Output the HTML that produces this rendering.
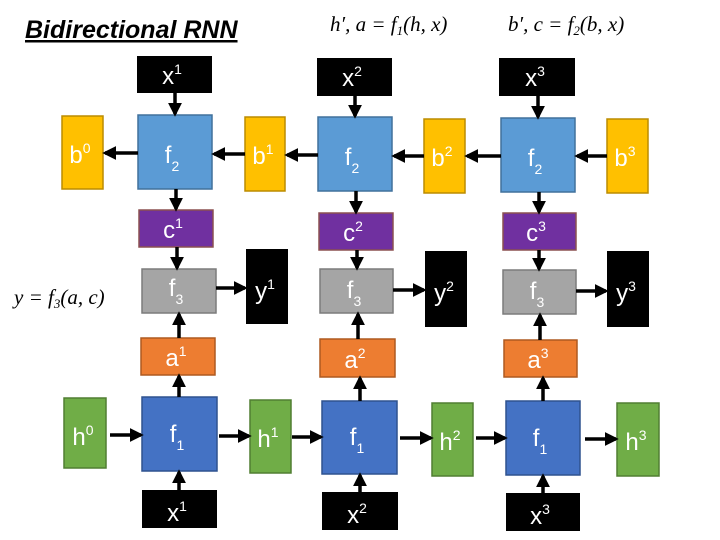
<!DOCTYPE html>
<html><head><meta charset="utf-8"><style>
html,body{margin:0;padding:0;background:#fff}
svg{display:block}
.t{font-family:"Liberation Sans Narrow","Liberation Sans",sans-serif;fill:#fff;font-size:24px;text-anchor:middle}
.s{font-size:14px}
.m{font-family:"Liberation Serif",serif;font-style:italic;font-size:21px;fill:#000}
</style></head><body>
<svg width="720" height="540" viewBox="0 0 720 540" xmlns="http://www.w3.org/2000/svg">
<defs><marker id="a" markerWidth="4" markerHeight="4" refX="3.2" refY="2" orient="auto" markerUnits="strokeWidth"><path d="M0,0 L4,2 L0,4 z" fill="#000"/></marker></defs>
<text x="25" y="38" font-family="Liberation Sans,sans-serif" font-weight="bold" font-style="italic" font-size="25" text-decoration="underline">Bidirectional RNN</text>
<text class="m" x="330" y="31">h′, a = f<tspan font-size="13" dy="4">1</tspan><tspan dy="-4">(h, x)</tspan></text>
<text class="m" x="508" y="31">b′, c = f<tspan font-size="13" dy="4">2</tspan><tspan dy="-4">(b, x)</tspan></text>
<text class="m" x="14" y="304">y = f<tspan font-size="13" dy="4">3</tspan><tspan dy="-4">(a, c)</tspan></text>
<g stroke-width="1.5">
<rect x="137" y="56" width="75" height="37" fill="#000"/>
<rect x="317" y="58" width="75" height="38" fill="#000"/>
<rect x="499" y="58" width="76" height="38" fill="#000"/>
<rect x="138" y="115" width="74" height="74" fill="#5B9BD5" stroke="#41719C"/>
<rect x="318" y="117" width="74" height="74" fill="#5B9BD5" stroke="#41719C"/>
<rect x="501" y="118" width="74" height="74" fill="#5B9BD5" stroke="#41719C"/>
<rect x="62" y="116" width="41" height="73" fill="#FFC000" stroke="#BC8C00"/>
<rect x="245" y="117" width="40" height="74" fill="#FFC000" stroke="#BC8C00"/>
<rect x="424" y="119" width="41" height="74" fill="#FFC000" stroke="#BC8C00"/>
<rect x="607" y="119" width="41" height="74" fill="#FFC000" stroke="#BC8C00"/>
<rect x="139" y="210" width="74" height="37" fill="#7030A0" stroke="#8B5050"/>
<rect x="319" y="213" width="74" height="37" fill="#7030A0" stroke="#8B5050"/>
<rect x="503" y="213" width="73" height="37" fill="#7030A0" stroke="#8B5050"/>
<rect x="142" y="269" width="74" height="44" fill="#A5A5A5" stroke="#7C7C7C"/>
<rect x="320" y="269" width="73" height="44" fill="#A5A5A5" stroke="#7C7C7C"/>
<rect x="503" y="270" width="73" height="44" fill="#A5A5A5" stroke="#7C7C7C"/>
<rect x="246" y="249" width="42" height="75" fill="#000"/>
<rect x="425" y="251" width="42" height="76" fill="#000"/>
<rect x="607" y="251" width="42" height="76" fill="#000"/>
<rect x="141" y="338" width="74" height="37" fill="#ED7D31" stroke="#AE5A21"/>
<rect x="320" y="339" width="75" height="38" fill="#ED7D31" stroke="#AE5A21"/>
<rect x="504" y="340" width="73" height="37" fill="#ED7D31" stroke="#AE5A21"/>
<rect x="142" y="397" width="75" height="74" fill="#4472C4" stroke="#2F528F"/>
<rect x="322" y="401" width="75" height="73" fill="#4472C4" stroke="#2F528F"/>
<rect x="506" y="401" width="74" height="74" fill="#4472C4" stroke="#2F528F"/>
<rect x="64" y="398" width="42" height="70" fill="#70AD47" stroke="#507E32"/>
<rect x="250" y="400" width="41" height="73" fill="#70AD47" stroke="#507E32"/>
<rect x="432" y="403" width="41" height="73" fill="#70AD47" stroke="#507E32"/>
<rect x="617" y="403" width="42" height="73" fill="#70AD47" stroke="#507E32"/>
<rect x="142" y="490" width="75" height="38" fill="#000"/>
<rect x="322" y="492" width="76" height="38" fill="#000"/>
<rect x="506" y="493" width="74" height="38" fill="#000"/>
</g>
<g stroke="#000" stroke-width="3.5" marker-end="url(#a)">
<line x1="175" y1="93" x2="175" y2="114"/>
<line x1="355" y1="96" x2="355" y2="116"/>
<line x1="538" y1="96" x2="538" y2="117"/>
<line x1="176" y1="189" x2="176" y2="209"/>
<line x1="356" y1="191" x2="356" y2="212"/>
<line x1="539" y1="192" x2="539" y2="212"/>
<line x1="177" y1="247" x2="177" y2="268"/>
<line x1="357" y1="250" x2="357" y2="268"/>
<line x1="539" y1="250" x2="539" y2="269"/>
<line x1="138" y1="153" x2="105" y2="153"/>
<line x1="245" y1="154" x2="214" y2="154"/>
<line x1="318" y1="155" x2="287" y2="155"/>
<line x1="424" y1="156" x2="394" y2="156"/>
<line x1="501" y1="156" x2="467" y2="156"/>
<line x1="607" y1="156" x2="577" y2="156"/>
<line x1="216" y1="288" x2="245" y2="288"/>
<line x1="393" y1="290" x2="424" y2="290"/>
<line x1="576" y1="291" x2="606" y2="291"/>
<line x1="179" y1="338" x2="179" y2="314"/>
<line x1="358" y1="339" x2="358" y2="314"/>
<line x1="540" y1="340" x2="540" y2="315"/>
<line x1="179" y1="397" x2="179" y2="376"/>
<line x1="360" y1="401" x2="360" y2="378"/>
<line x1="543" y1="401" x2="543" y2="378"/>
<line x1="179" y1="490" x2="179" y2="472"/>
<line x1="360" y1="492" x2="360" y2="475"/>
<line x1="543" y1="493" x2="543" y2="476"/>
<line x1="110" y1="435" x2="141" y2="435"/>
<line x1="219" y1="436" x2="249" y2="436"/>
<line x1="292" y1="437" x2="321" y2="437"/>
<line x1="400" y1="438" x2="431" y2="438"/>
<line x1="476" y1="438" x2="505" y2="438"/>
<line x1="585" y1="439" x2="616" y2="439"/>
</g>
<g class="t">
<text x="172" y="84">x<tspan class="s" dy="-10">1</tspan></text>
<text x="352" y="86">x<tspan class="s" dy="-10">2</tspan></text>
<text x="535" y="86">x<tspan class="s" dy="-10">3</tspan></text>
<text x="172" y="163">f<tspan class="s" dy="8">2</tspan></text>
<text x="352" y="165">f<tspan class="s" dy="8">2</tspan></text>
<text x="535" y="166">f<tspan class="s" dy="8">2</tspan></text>
<text x="80" y="163">b<tspan class="s" dy="-10">0</tspan></text>
<text x="263" y="164">b<tspan class="s" dy="-10">1</tspan></text>
<text x="442" y="166">b<tspan class="s" dy="-10">2</tspan></text>
<text x="625" y="166">b<tspan class="s" dy="-10">3</tspan></text>
<text x="173" y="238">c<tspan class="s" dy="-10">1</tspan></text>
<text x="353" y="241">c<tspan class="s" dy="-10">2</tspan></text>
<text x="536" y="241">c<tspan class="s" dy="-10">3</tspan></text>
<text x="176" y="296">f<tspan class="s" dy="8">3</tspan></text>
<text x="354" y="298">f<tspan class="s" dy="8">3</tspan></text>
<text x="537" y="299">f<tspan class="s" dy="8">3</tspan></text>
<text x="265" y="299">y<tspan class="s" dy="-10">1</tspan></text>
<text x="444" y="301">y<tspan class="s" dy="-10">2</tspan></text>
<text x="626" y="301">y<tspan class="s" dy="-10">3</tspan></text>
<text x="176" y="366">a<tspan class="s" dy="-10">1</tspan></text>
<text x="355" y="368">a<tspan class="s" dy="-10">2</tspan></text>
<text x="538" y="368">a<tspan class="s" dy="-10">3</tspan></text>
<text x="177" y="442">f<tspan class="s" dy="8">1</tspan></text>
<text x="357" y="445">f<tspan class="s" dy="8">1</tspan></text>
<text x="540" y="446">f<tspan class="s" dy="8">1</tspan></text>
<text x="83" y="445">h<tspan class="s" dy="-10">0</tspan></text>
<text x="268" y="447">h<tspan class="s" dy="-10">1</tspan></text>
<text x="450" y="450">h<tspan class="s" dy="-10">2</tspan></text>
<text x="636" y="450">h<tspan class="s" dy="-10">3</tspan></text>
<text x="177" y="521">x<tspan class="s" dy="-10">1</tspan></text>
<text x="357" y="523">x<tspan class="s" dy="-10">2</tspan></text>
<text x="540" y="524">x<tspan class="s" dy="-10">3</tspan></text>
</g>
</svg>
</body></html>
